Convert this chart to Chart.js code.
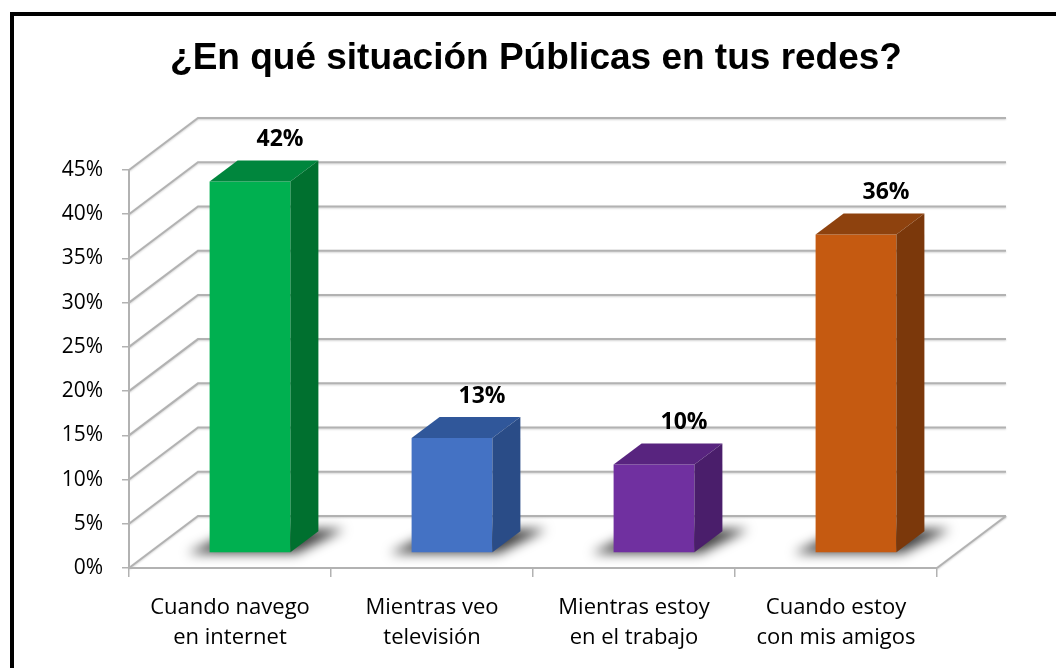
<!DOCTYPE html>
<html>
<head>
<meta charset="utf-8">
<title>¿En qué situación Públicas en tus redes?</title>
<script src="https://cdn.jsdelivr.net/npm/chart.js@4.4.1/dist/chart.umd.min.js"></script>
<style>
    html, body { margin: 0; padding: 0; background: #fff; }
    #wrap { width: 1056px; height: 668px; }
</style>
</head>
<body>
<div id="wrap"><canvas id="chart" width="1056" height="668"></canvas></div>
<script>
const chartTitle = '¿En qué situación Públicas en tus redes?';
const categories = [
    ['Cuando navego', 'en internet'],
    ['Mientras veo', 'televisión'],
    ['Mientras estoy', 'en el trabajo'],
    ['Cuando estoy', 'con mis amigos']
];
const values = [42, 13, 10, 36];
const yTicks = [0, 5, 10, 15, 20, 25, 30, 35, 40, 45];
const frontColors = ['#00b050', '#4472c4', '#7030a0', '#c55a11'];
const topColors = ['#00863d', '#30579a', '#58247f', '#8e420e'];
const sideColors = ['#00702f', '#2a4c87', '#4a1e6b', '#7b380b'];

// 3d look: depth of the back wall and of the bars, in pixels
const WALL_DX = 69, WALL_DY = 52;
const BAR_FX = 20, BAR_FY = 15;
const BAR_DX = 28, BAR_DY = 21;
const GRID = '#b2b2b2';

const threeD = {
    id: 'threeD',
    beforeDraw: function (chart) {
        const c = chart.ctx;
        const a = chart.chartArea;
        const y = chart.scales.y;
        c.save();
        c.fillStyle = '#fff';
        c.fillRect(0, 0, chart.width, chart.height);
        c.strokeStyle = '#000';
        c.lineWidth = 4;
        c.strokeRect(12, 14, chart.width + 20, chart.height + 20);

        c.fillStyle = '#000';
        c.font = 'bold 37px "Liberation Sans", Arial, sans-serif';
        c.textAlign = 'center';
        c.textBaseline = 'alphabetic';
        c.fillText(chartTitle, 536, 69);

        c.strokeStyle = GRID;
        c.lineWidth = 2;
        c.shadowColor = 'rgba(0,0,0,0.18)';
        c.shadowBlur = 2;
        c.shadowOffsetY = 1;
        yTicks.forEach(function (v) {
            const py = y.getPixelForValue(v);
            c.beginPath();
            c.moveTo(a.left, py);
            c.lineTo(a.left + WALL_DX, py - WALL_DY);
            c.lineTo(a.right + WALL_DX, py - WALL_DY);
            c.stroke();
        });
        c.beginPath();
        c.moveTo(a.right, a.bottom);
        c.lineTo(a.right + WALL_DX, a.bottom - WALL_DY);
        c.stroke();
        c.restore();
    },
    beforeDatasetsDraw: function (chart) {
        const c = chart.ctx;
        const bars = chart.getDatasetMeta(0).data;
        c.save();
        c.filter = 'blur(6px)';
        c.fillStyle = 'rgba(0,0,0,0.75)';
        bars.forEach(function (b) {
            const L = b.x - b.width / 2 + BAR_FX;
            const R = b.x + b.width / 2 + BAR_FX;
            const B = b.base - BAR_FY;
            c.beginPath();
            c.moveTo(L - 22, B + 1);
            c.lineTo(R + 6, B + 1);
            c.lineTo(R + BAR_DX + 26, B - BAR_DY - 2);
            c.lineTo(L + BAR_DX, B - BAR_DY - 2);
            c.closePath();
            c.fill();
        });
        c.restore();
        c.save();
        c.translate(BAR_FX, -BAR_FY);
    },
    afterDatasetsDraw: function (chart) {
        const c = chart.ctx;
        c.restore();
        const bars = chart.getDatasetMeta(0).data;
        c.save();
        bars.forEach(function (b, i) {
            const L = b.x - b.width / 2 + BAR_FX;
            const R = b.x + b.width / 2 + BAR_FX;
            const T = b.y - BAR_FY;
            const B = b.base - BAR_FY;
            c.fillStyle = topColors[i];
            c.beginPath();
            c.moveTo(L, T);
            c.lineTo(R, T);
            c.lineTo(R + BAR_DX, T - BAR_DY);
            c.lineTo(L + BAR_DX, T - BAR_DY);
            c.closePath();
            c.fill();
            c.fillStyle = sideColors[i];
            c.beginPath();
            c.moveTo(R, T);
            c.lineTo(R + BAR_DX, T - BAR_DY);
            c.lineTo(R + BAR_DX, B - BAR_DY);
            c.lineTo(R, B);
            c.closePath();
            c.fill();

            c.fillStyle = '#000';
            c.font = 'bold 23px "Open Sans"';
            c.textAlign = 'center';
            c.textBaseline = 'middle';
            c.fillText(values[i] + '%', b.x + BAR_FX + BAR_DX + 2, T - BAR_DY - 21);
        });
        c.restore();
    }
};

new Chart(document.getElementById('chart'), {
    type: 'bar',
    data: {
        labels: categories,
        datasets: [{
            data: values,
            backgroundColor: frontColors,
            borderWidth: 0,
            barPercentage: 0.4,
            categoryPercentage: 1,
            clip: false
        }]
    },
    options: {
        responsive: false,
        animation: false,
        layout: { padding: { top: 170, right: 119, bottom: 0, left: 0 } },
        plugins: {
            legend: { display: false },
            tooltip: { enabled: false },
            title: { display: false }
        },
        scales: {
            x: {
                grid: { drawOnChartArea: false, offset: true, tickLength: 9, color: GRID, lineWidth: 1.5 },
                border: { color: GRID, width: 2 },
                ticks: {
                    color: '#000',
                    font: { family: '"Open Sans"', size: 22, lineHeight: 1.4 },
                    padding: 15,
                    maxRotation: 0,
                    autoSkip: false
                },
                afterFit: function (s) { s.height = 100; }
            },
            y: {
                min: yTicks[0],
                max: yTicks[yTicks.length - 1],
                grid: { drawOnChartArea: false, tickLength: 7, color: GRID, lineWidth: 1.5 },
                border: { color: GRID, width: 2 },
                ticks: {
                    stepSize: 5,
                    color: '#000',
                    font: { family: '"Open Sans"', size: 21 },
                    padding: 19,
                    callback: function (v) { return v + '%'; }
                },
                afterFit: function (s) { s.width = 129; }
            }
        }
    },
    plugins: [threeD]
});
</script>
</body>
</html>
